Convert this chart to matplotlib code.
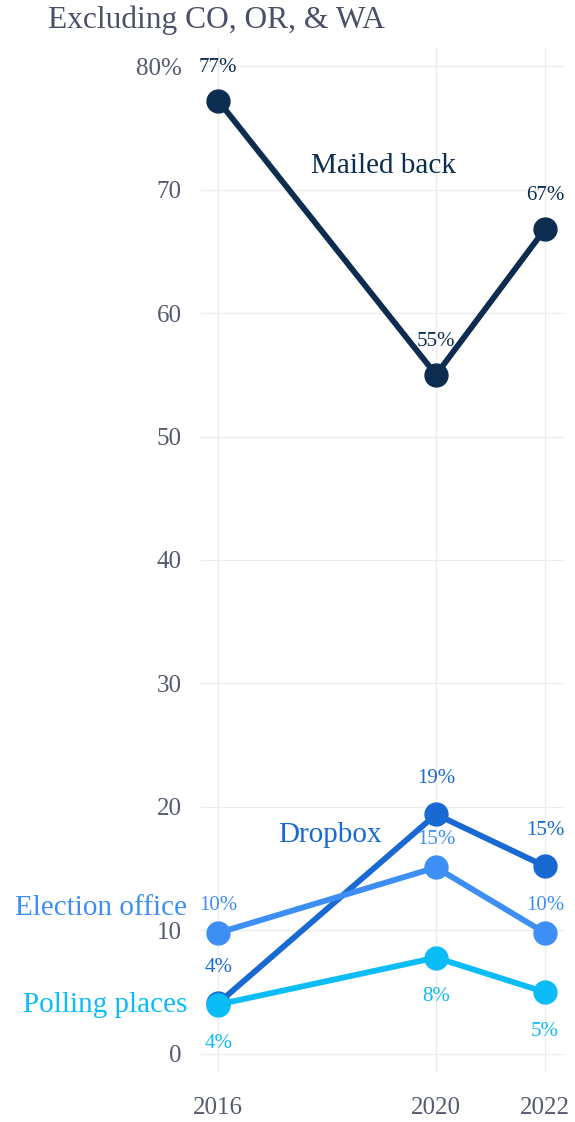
import matplotlib
matplotlib.use("Agg")
import matplotlib.pyplot as plt

# ── data ─────────────────────────────────────────────
years = [2016, 2020, 2022]
mailed_back = [77.2, 55.0, 66.8]
dropbox = [4.1, 19.4, 15.2]
election_office = [9.8, 15.1, 9.8]
polling_places = [4.0, 7.8, 5.0]

mailed_back_labels = ["77%", "55%", "67%"]
dropbox_labels = ["4%", "19%", "15%"]
election_office_labels = ["10%", "15%", "10%"]
polling_places_labels = ["4%", "8%", "5%"]

y_ticks = [0, 10, 20, 30, 40, 50, 60, 70, 80]
y_ticklabels = ["0", "10", "20", "30", "40", "50", "60", "70", "80%"]

# (name, values, point labels, colour, label offset in pt, series label xy, ha)
series = [
    ("Mailed back", mailed_back, mailed_back_labels, "#0d2d50", 24, (2019.04, 71.9), "center"),
    ("Dropbox", dropbox, dropbox_labels, "#186ad2", 26, (2018.06, 17.7), "center"),
    ("Election office", election_office, election_office_labels, "#3d8ef5", 20, (2015.43, 11.8), "right"),
    ("Polling places", polling_places, polling_places_labels, "#0bbcf7", -28, (2015.43, 3.95), "right"),
]

plt.rcParams["font.family"] = ["Liberation Serif", "DejaVu Serif"]

fig = plt.figure(figsize=(5.75, 11.22), dpi=100)
ax = fig.add_axes([0.35, 0.0446, 0.631, 0.9126])

for name, vals, labels, col, off, lab_xy, ha in series:
    ax.plot(years, vals, color=col, linewidth=4.2, marker="o", markersize=16.5,
            solid_capstyle="round", zorder=3)
    for x, v, t in zip(years, vals, labels):
        ax.annotate(t, (x, v), xytext=(0, off), textcoords="offset points",
                    ha="center", va="center", fontsize=15, color=col, zorder=5)
    ax.text(lab_xy[0], lab_xy[1], name, ha=ha, va="center", fontsize=21,
            color=col, zorder=5)

ax.set_xlim(2015.69, 2022.35)
ax.set_ylim(-1.46, 81.46)
ax.set_xticks(years)
ax.set_xticklabels([str(y) for y in years])
ax.set_yticks(y_ticks)
ax.set_yticklabels(y_ticklabels)
ax.tick_params(axis="both", length=0, labelsize=18, colors="#555a6e")
ax.tick_params(axis="y", pad=14)
ax.tick_params(axis="x", pad=18)
ax.grid(True, color="#ebebeb", linewidth=0.9, zorder=0)
ax.set_axisbelow(True)
for s in ax.spines.values():
    s.set_visible(False)

fig.text(48 / 575, 1 - 20 / 1122, "Excluding CO, OR, & WA", ha="left", va="center",
         fontsize=22.7, color="#4a5068")

fig.savefig("out.png", dpi=100)
